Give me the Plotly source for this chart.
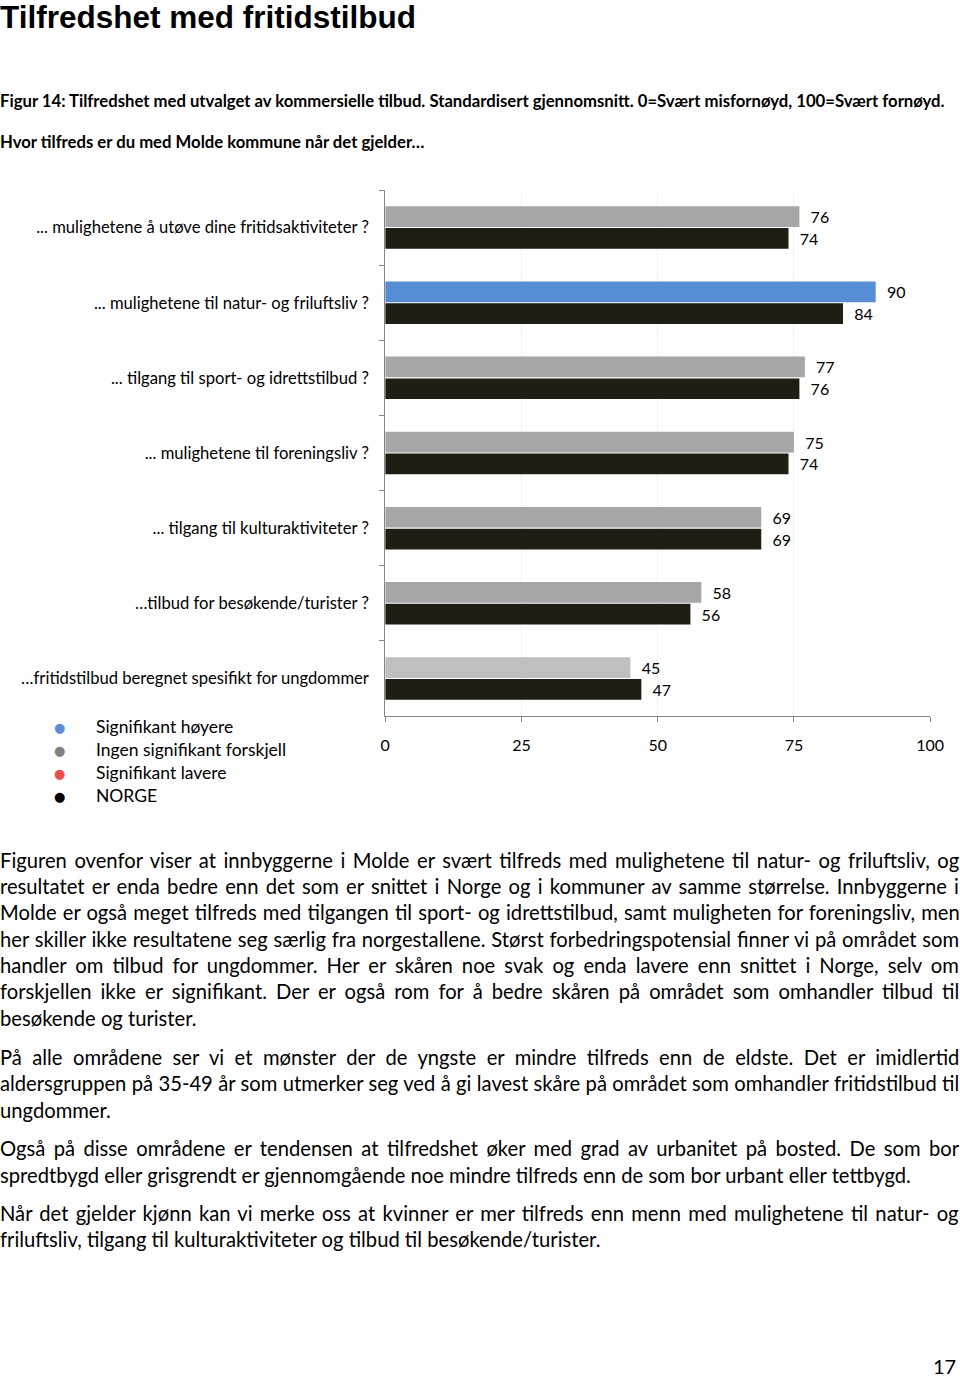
import plotly.graph_objects as go

categories = [
    "... mulighetene å utøve dine fritidsaktiviteter ?",
    "... mulighetene til natur- og friluftsliv ?",
    "... tilgang til sport- og idrettstilbud ?",
    "... mulighetene til foreningsliv ?",
    "... tilgang til kulturaktiviteter ?",
    "…tilbud for besøkende/turister ?",
    "…fritidstilbud beregnet spesifikt for ungdommer",
]
molde = [76, 90, 77, 75, 69, 58, 45]
norge = [74, 84, 76, 74, 69, 56, 47]
molde_colors = ["#A6A6A6", "#558ED5", "#A6A6A6", "#A6A6A6", "#A6A6A6", "#A6A6A6", "#BFBFBF"]
x_ticks = [0, 25, 50, 75, 100]

legend_labels = ["Signifikant høyere", "Ingen signifikant forskjell", "Signifikant lavere", "NORGE"]
legend_colors = ["#5B8FD6", "#808080", "#F04E4E", "#000000"]

paragraphs = [
    [
        "Figuren ovenfor viser at innbyggerne i Molde er svært tilfreds med mulighetene til natur- og friluftsliv, og",
        "resultatet er enda bedre enn det som er snittet i Norge og i kommuner av samme størrelse. Innbyggerne i",
        "Molde er også meget tilfreds med tilgangen til sport- og idrettstilbud, samt muligheten for foreningsliv, men",
        "her skiller ikke resultatene seg særlig fra norgestallene. Størst forbedringspotensial finner vi på området som",
        "handler om tilbud for ungdommer. Her er skåren noe svak og enda lavere enn snittet i Norge, selv om",
        "forskjellen ikke er signifikant. Der er også rom for å bedre skåren på området som omhandler tilbud til",
        "besøkende og turister.",
    ],
    [
        "På alle områdene ser vi et mønster der de yngste er mindre tilfreds enn de eldste. Det er imidlertid",
        "aldersgruppen på 35-49 år som utmerker seg ved å gi lavest skåre på området som omhandler fritidstilbud til",
        "ungdommer.",
    ],
    [
        "Også på disse områdene er tendensen at tilfredshet øker med grad av urbanitet på bosted. De som bor",
        "spredtbygd eller grisgrendt er gjennomgående noe mindre tilfreds enn de som bor urbant eller tettbygd.",
    ],
    [
        "Når det gjelder kjønn kan vi merke oss at kvinner er mer tilfreds enn menn med mulighetene til natur- og",
        "friluftsliv, tilgang til kulturaktiviteter og tilbud til besøkende/turister.",
    ],
]

# layout helpers (page pixel -> paper coords)
H = 1380
PAPER_W, PAPER_X0 = 941.0, 4.8
FONT = "Lato"


def py(px):
    return 1 - px / H


def pxx(px):
    return (px - PAPER_X0) / PAPER_W


fig = go.Figure()
pad = "\u00a0\u00a0"
fig.add_trace(go.Bar(
    y=categories, x=molde, orientation="h", name="Molde",
    marker=dict(color=molde_colors, line=dict(width=0)),
    text=[pad + str(v) for v in molde], textposition="outside",
    outsidetextfont=dict(family=FONT, size=16, color="#000000"),
    constraintext="none", cliponaxis=False,
))
fig.add_trace(go.Bar(
    y=categories, x=norge, orientation="h", name="NORGE",
    marker=dict(color="#201D12", line=dict(width=0)),
    text=[pad + str(v) for v in norge], textposition="outside",
    outsidetextfont=dict(family=FONT, size=16, color="#000000"),
    constraintext="none", cliponaxis=False,
))

fig.update_layout(
    width=960, height=H,
    margin=dict(l=0, r=0, t=0, b=0),
    paper_bgcolor="white", plot_bgcolor="white",
    barmode="group", bargap=0.42, bargroupgap=0.05,
    showlegend=False,
    font=dict(family=FONT, color="#000000"),
    xaxis=dict(
        domain=[pxx(385), pxx(930)], anchor="y",
        range=[0, 100], tickvals=x_ticks, ticktext=[str(t) for t in x_ticks],
        showgrid=True, gridcolor="#F2F2F2", gridwidth=1,
        showline=True, linecolor="#868686", linewidth=1,
        ticks="outside", ticklen=5, tickcolor="#868686",
        tickfont=dict(family=FONT, size=16, color="#000000"),
        zeroline=False, ticklabelstandoff=10,
    ),
    yaxis=dict(
        domain=[py(716), py(190)], anchor="x",
        autorange="reversed", type="category",
        showline=True, linecolor="#868686", linewidth=1,
        ticks="outside", ticklen=5, tickcolor="#868686", tickson="boundaries",
        tickfont=dict(family=FONT, size=16.6, color="#000000"),
        ticklabelstandoff=12, showgrid=False,
    ),
)

annotations = []


def txt(text, x_px, y_px, size, family=FONT, xanchor="left", color="#000000"):
    return dict(
        text=text, x=pxx(x_px), y=py(y_px), xref="paper", yref="paper",
        xanchor=xanchor, yanchor="middle", showarrow=False,
        borderpad=0, borderwidth=0,
        font=dict(family=family, size=size, color=color),
    )


annotations.append(txt("<b>Tilfredshet med fritidstilbud</b>", 0, 17, 31.5, family="Liberation Sans"))
annotations.append(txt(
    "<b>Figur 14: Tilfredshet med utvalget av kommersielle tilbud. Standardisert gjennomsnitt. 0=Svært misfornøyd, 100=Svært fornøyd.</b>",
    0, 101, 16.7))
annotations.append(txt("<b>Hvor tilfreds er du med Molde kommune når det gjelder…</b>", 0, 142, 16.7))

for i, (lab, col) in enumerate(zip(legend_labels, legend_colors)):
    yy = 726 + i * 23.3
    annotations.append(txt("●", 59, yy + 1, 13, family="DejaVu Sans", xanchor="center", color=col))
    annotations.append(txt(lab, 96, yy, 17.5))

# body text, justified with word spacing
BODY_SIZE = 20.2
BASE_SIZE = 18.5
base_widths = [[844, 845, 866, 871, 815, 818, None], [792, 876, None], [828, None], [843, None]]
line_y = [[860, 886, 912, 939, 965, 991, 1018], [1057, 1083, 1110], [1148, 1175], [1213, 1239]]
TARGET_W = 960
for para, ys, ws in zip(paragraphs, line_y, base_widths):
    for line, yy, bw in zip(para, ys, ws):
        if bw is not None:
            natural = bw * BODY_SIZE / BASE_SIZE
            spacing = max(0.0, (TARGET_W - natural) / line.count(" "))
            text = '<span style="word-spacing:%.2fpx">%s</span>' % (spacing, line)
        else:
            text = line
        annotations.append(txt(text, 0, yy, BODY_SIZE))

annotations.append(txt("17", 956, 1366, 20, xanchor="right"))

fig.update_layout(annotations=annotations)
fig.write_html("out.html")
